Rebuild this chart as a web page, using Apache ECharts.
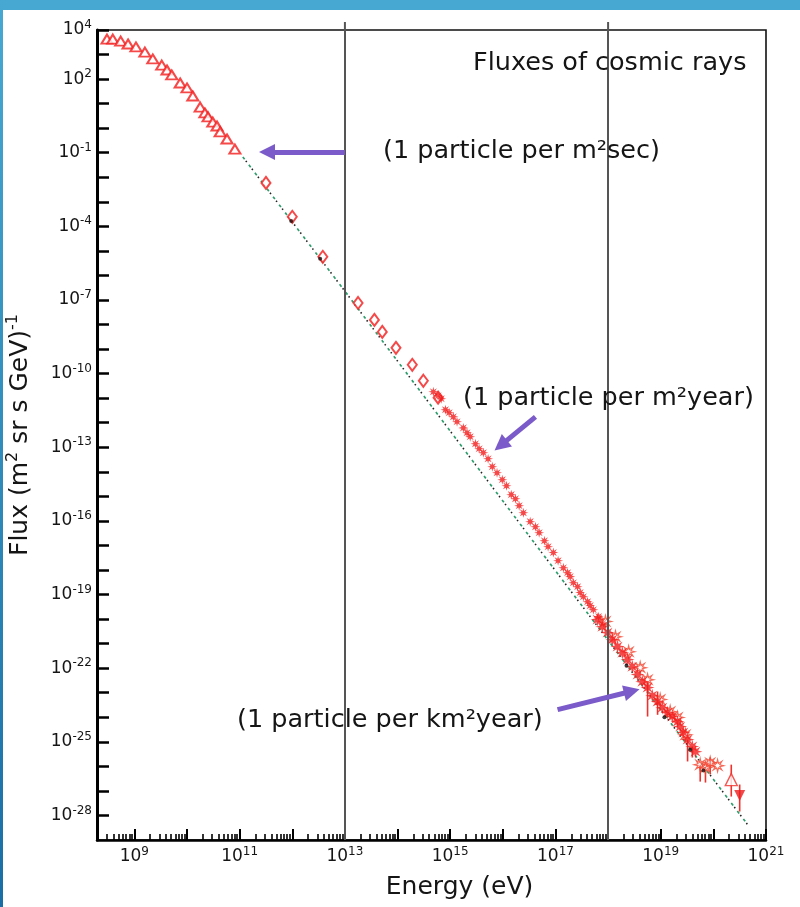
<!DOCTYPE html>
<html>
<head>
<meta charset="utf-8">
<script src="https://cdn.jsdelivr.net/npm/echarts@6/dist/echarts.min.js"></script>
<style>
  html, body { margin: 0; padding: 0; background: #fff; }
  #frame { position: relative; width: 800px; height: 907px; overflow: hidden; background: #fff; }
  #chart { position: absolute; left: 0; top: 0; width: 800px; height: 907px; }
  #topbar { position: absolute; left: 0; top: 0; width: 800px; height: 10px; background: #47a9d1; }
  #leftbar { position: absolute; left: 0; top: 0; width: 3px; height: 907px; background: linear-gradient(#47a9d1, #1a6ea5); }
</style>
</head>
<body>
<div id="frame">
  <div id="chart"></div>
  <div id="topbar"></div>
  <div id="leftbar"></div>
</div>
<script>
// All values are log10: energy in eV, flux in (m^2 sr s GeV)^-1.

// Low-energy direct measurements (open triangles)
const triLogE = [8.48, 8.59, 8.74, 8.88, 9.03, 9.20, 9.35, 9.52, 9.62, 9.71, 9.87, 10.00, 10.11, 10.25, 10.34, 10.40, 10.49, 10.57, 10.63, 10.76, 10.91];
const triLogF = [3.63, 3.63, 3.55, 3.43, 3.31, 3.10, 2.82, 2.57, 2.37, 2.17, 1.84, 1.64, 1.31, 0.86, 0.62, 0.46, 0.25, 0.09, -0.15, -0.44, -0.85];

// Balloon / satellite points (open diamonds)
const diaLogE = [11.50, 12.00, 12.58, 13.25, 13.56, 13.71, 13.97, 14.28, 14.49, 14.77];
const diaLogF = [-2.23, -3.61, -5.24, -7.12, -7.81, -8.30, -8.95, -9.64, -10.29, -10.98];

// Air-shower array points through the knee (filled asterisks)
const astLogE = [14.68, 14.77, 14.83, 14.91, 14.98, 15.06, 15.13, 15.25, 15.32, 15.38, 15.48, 15.55, 15.63, 15.72, 15.80, 15.89, 15.99, 16.07, 16.16, 16.24, 16.31, 16.39, 16.52, 16.62, 16.69, 16.79, 16.86, 16.96, 17.05, 17.15, 17.23, 17.28, 17.34, 17.42, 17.47, 17.53, 17.61, 17.66, 17.72, 17.82, 17.91];
const astLogF = [-10.74, -10.90, -11.02, -11.47, -11.59, -11.76, -11.96, -12.21, -12.41, -12.57, -12.86, -13.06, -13.22, -13.47, -13.79, -14.04, -14.32, -14.57, -14.93, -15.10, -15.38, -15.67, -16.03, -16.24, -16.48, -16.81, -17.05, -17.29, -17.62, -17.91, -18.11, -18.27, -18.52, -18.68, -18.92, -19.09, -19.29, -19.45, -19.62, -19.90, -20.15];

// Ankle region, filled symbols
const ankLogE = [17.80, 17.89, 17.99, 18.08, 18.18, 18.27, 18.37, 18.46, 18.56, 18.65, 18.75, 18.84, 18.94, 19.03, 19.13, 19.22, 19.32, 19.37, 19.43, 19.51, 19.60, 19.66];
const ankLogF = [-20.02, -20.31, -20.55, -20.84, -21.12, -21.37, -21.65, -21.94, -22.26, -22.55, -22.79, -23.12, -23.36, -23.61, -23.81, -23.97, -24.18, -24.38, -24.62, -24.91, -25.19, -25.40];

// Ankle region, open symbols
const opnLogE = [17.95, 18.14, 18.39, 18.61, 18.75, 18.99, 19.18, 19.32, 19.47, 19.75, 19.85, 19.94, 20.08];
const opnLogF = [-20.10, -20.72, -21.33, -21.98, -22.47, -23.28, -23.77, -24.01, -24.71, -25.93, -26.05, -25.85, -25.97];

// Highest-energy points
const topTriLogE = [20.34];
const topTriLogF = [-26.54];
const limLogE = [20.50];
const limLogF = [-27.19];

// Vertical error bars: energy, upper and lower flux
const errLogE = [18.75, 18.94, 19.51, 19.60, 19.75, 19.85, 19.94, 20.34, 20.50];
const errHigh = [-22.59, -22.95, -24.91, -25.19, -25.93, -26.05, -25.64, -25.93, -26.74];
const errLow = [-23.97, -23.90, -25.80, -25.64, -26.62, -26.66, -26.33, -27.23, -27.84];

// Small black points
const blkLogE = [11.98, 12.53, 18.35, 19.07, 19.56, 19.81];
const blkLogF = [-3.78, -5.32, -21.90, -24.00, -25.32, -26.17];

// Power-law guide line
const fitLogE = [11.06, 12.95, 16.77, 20.65];
const fitLogF = [-1.17, -6.50, -17.38, -28.37];

// Reference energies marked by vertical lines
const markLogE = [13, 18];

// Annotation arrows: [tail, head] in log10 units
const arrowTails = [[13.00, -0.97], [16.62, -11.76], [17.04, -23.69]];
const arrowHeads = [[11.52, -0.97], [15.96, -12.92], [18.45, -22.94]];

// Axis ticks
const xMajorTicks = [9, 10, 11, 12, 13, 14, 15, 16, 17, 18, 19, 20, 21];
const xLabelTicks = [9, 11, 13, 15, 17, 19, 21];
const yMajorTicks = [4, 3, 2, 1, 0, -1, -2, -3, -4, -5, -6, -7, -8, -9, -10, -11, -12, -13, -14, -15, -16, -17, -18, -19, -20, -21, -22, -23, -24, -25, -26, -27, -28];
const yLabelTicks = [4, 2, -1, -4, -7, -10, -13, -16, -19, -22, -25, -28];

const X_MIN = 8.29, X_MAX = 21, Y_MIN = -29, Y_MAX = 4;

const xMinorTicks = [];
for (let n = 8; n <= 20; n++) {
  for (let k = 2; k <= 9; k++) {
    const v = n + Math.log10(k);
    if (v > X_MIN && v < X_MAX) xMinorTicks.push(v);
  }
}

const zip = (a, b) => a.map((v, i) => [v, b[i]]);

function starPath(points, inner) {
  let d = '';
  for (let i = 0; i < points * 2; i++) {
    const ang = i * Math.PI / points - Math.PI / 2;
    const r = i % 2 ? inner : 1;
    const x = (50 + 50 * r * Math.cos(ang)).toFixed(2);
    const y = (50 + 50 * r * Math.sin(ang)).toFixed(2);
    d += (i ? 'L' : 'M') + x + ' ' + y + ' ';
  }
  return 'path://' + d + 'Z';
}
const STAR = starPath(8, 0.4);

const FONT = 'DejaVu Sans';
const RED = '#f21b1b';
const INK = '#151515';

const powRich = {
  b: { fontSize: 17, fontFamily: FONT, color: INK, lineHeight: 22 },
  s: { fontSize: 12, fontFamily: FONT, color: INK, lineHeight: 12, verticalAlign: 'top' }
};
const powLabel = v => '{b|10}{s|' + Math.round(v) + '}';

const textStyle = t => ({ text: t, fontSize: 25.5, fontFamily: FONT, fill: INK });

const chart = echarts.init(document.getElementById('chart'), null, { renderer: 'canvas' });

const option = {
  animation: false,
  backgroundColor: 'transparent',
  grid: {
    left: 97, right: 34, top: 30, bottom: 67,
    containLabel: false, outerBoundsMode: 'none',
    show: true, borderColor: '#111', borderWidth: 1.6, backgroundColor: 'transparent'
  },
  xAxis: [
    {
      type: 'value', min: X_MIN, max: X_MAX, position: 'bottom', offset: 0,
      name: 'Energy (eV)', nameLocation: 'middle', nameGap: 35,
      nameTextStyle: { fontSize: 25, fontFamily: FONT, color: INK, padding: [0, 0, 0, 56] },
      axisLine: { show: true, onZero: false, lineStyle: { color: '#000', width: 2.5 } },
      axisTick: { show: true, inside: true, length: 11, customValues: xMajorTicks, lineStyle: { color: '#000', width: 2 } },
      axisLabel: { show: true, customValues: xLabelTicks, margin: 6, formatter: powLabel, rich: powRich },
      splitLine: { show: false }
    },
    {
      type: 'value', min: X_MIN, max: X_MAX, position: 'bottom', offset: 0,
      axisLine: { show: false, onZero: false },
      axisTick: { show: true, inside: true, length: 6, customValues: xMinorTicks, lineStyle: { color: '#000', width: 1.6 } },
      axisLabel: { show: false },
      splitLine: { show: false }
    }
  ],
  yAxis: {
    type: 'value', min: Y_MIN, max: Y_MAX, position: 'left',
    name: '{n|Flux (m}{s|2}{n| sr s GeV)}{s|-1}',
    nameLocation: 'middle', nameRotate: 90, nameGap: 62,
    nameTextStyle: {
      rich: {
        n: { fontSize: 25, fontFamily: FONT, color: INK, lineHeight: 30 },
        s: { fontSize: 16, fontFamily: FONT, color: INK, lineHeight: 16, verticalAlign: 'top' }
      }
    },
    axisLine: { show: true, onZero: false, lineStyle: { color: '#000', width: 3 } },
    axisTick: { show: true, inside: true, length: 12, customValues: yMajorTicks, lineStyle: { color: '#000', width: 2.5 } },
    axisLabel: { show: true, customValues: yLabelTicks, margin: 5, formatter: powLabel, rich: powRich },
    splitLine: { show: false }
  },
  graphic: [
    { id: 'title', type: 'text', left: 473, top: 50, z: 50, style: textStyle('Fluxes of cosmic rays') },
    { id: 'noteSec', type: 'text', left: 383, top: 138, z: 50, style: textStyle('(1 particle per m\u00B2sec)') },
    { id: 'noteYear', type: 'text', left: 463, top: 385, z: 50, style: textStyle('(1 particle per m\u00B2year)') },
    { id: 'noteKm', type: 'text', left: 237, top: 707, z: 50, style: textStyle('(1 particle per km\u00B2year)') }
  ],
  series: [
    {
      name: 'guide', type: 'line', data: zip(fitLogE, fitLogF), showSymbol: false, symbol: 'none', z: 1,
      lineStyle: { color: '#2f9e6e', width: 1.7, type: [3, 7] }
    },
    {
      name: 'guide dots', type: 'line', data: zip(fitLogE, fitLogF), showSymbol: false, symbol: 'none', z: 1,
      lineStyle: { color: '#222', width: 1.6, type: [1.5, 8.5], dashOffset: -5 }
    },
    {
      name: 'triangles', type: 'scatter', data: zip(triLogE, triLogF), z: 3,
      symbol: 'emptyTriangle', symbolSize: [11, 9],
      itemStyle: { color: RED, borderColor: RED, borderWidth: 1.1 }
    },
    {
      name: 'diamonds', type: 'scatter', data: zip(diaLogE, diaLogF), z: 3,
      symbol: 'emptyDiamond', symbolSize: [9, 12],
      itemStyle: { color: RED, borderColor: RED, borderWidth: 1.2 }
    },
    {
      name: 'error bars', type: 'custom', z: 2,
      data: errLogE.map((e, i) => [e, errHigh[i], errLow[i]]),
      renderItem: (params, api) => {
        const p1 = api.coord([api.value(0), api.value(1)]);
        const p2 = api.coord([api.value(0), api.value(2)]);
        return {
          type: 'line',
          shape: { x1: p1[0], y1: p1[1], x2: p2[0], y2: p2[1] },
          style: { stroke: '#f0302a', lineWidth: 1.6 }
        };
      }
    },
    {
      name: 'asterisks', type: 'scatter', data: zip(astLogE, astLogF), z: 3,
      symbol: STAR, symbolSize: 10,
      itemStyle: { color: RED }
    },
    {
      name: 'ankle open', type: 'scatter', data: zip(opnLogE, opnLogF), z: 3,
      symbol: STAR, symbolSize: 12,
      itemStyle: { color: 'rgba(255,255,255,0.5)', borderColor: '#f2452f', borderWidth: 1.2 }
    },
    {
      name: 'ankle filled', type: 'scatter', data: zip(ankLogE, ankLogF), z: 4,
      symbol: STAR, symbolSize: 14,
      itemStyle: { color: RED }
    },
    {
      name: 'top triangle', type: 'scatter', data: zip(topTriLogE, topTriLogF), z: 4,
      symbol: 'triangle', symbolSize: [12, 12],
      itemStyle: { color: '#fff', borderColor: '#f0302a', borderWidth: 1.4 }
    },
    {
      name: 'limit', type: 'scatter', data: zip(limLogE, limLogF), z: 4,
      symbol: 'triangle', symbolRotate: 180, symbolSize: [11, 11],
      itemStyle: { color: '#ee1c1c' }
    },
    {
      name: 'black points', type: 'scatter', data: zip(blkLogE, blkLogF), z: 5,
      symbol: 'circle', symbolSize: 4,
      itemStyle: { color: '#111' },
      markLine: {
        silent: true, symbol: 'none', z: 6,
        label: { show: false },
        lineStyle: { color: '#555', width: 2, type: 'solid' },
        data: markLogE.map(v => ({ xAxis: v }))
      }
    },
    {
      name: 'arrows', type: 'scatter', data: [], z: 7,
      markLine: {
        silent: true, symbol: ['none', 'triangle'], symbolSize: [16, 16], z: 7,
        label: { show: false },
        lineStyle: { color: '#7b5bc9', width: 5, type: 'solid', opacity: 1 },
        data: arrowTails.map((t, i) => [{ coord: t }, { coord: arrowHeads[i] }])
      }
    }
  ]
};

chart.setOption(option);

// The marker lines rise a little above the frame: extend them upward from the axis position.
const topY = chart.convertToPixel({ yAxisIndex: 0 }, Y_MAX);
chart.setOption({
  graphic: markLogE.map((v, i) => {
    const x = chart.convertToPixel({ xAxisIndex: 0 }, v);
    return {
      id: 'markStub' + i, type: 'line', z: 40, silent: true,
      shape: { x1: x, y1: topY - 8, x2: x, y2: topY },
      style: { stroke: '#555', lineWidth: 2 }
    };
  })
});
</script>
</body>
</html>
